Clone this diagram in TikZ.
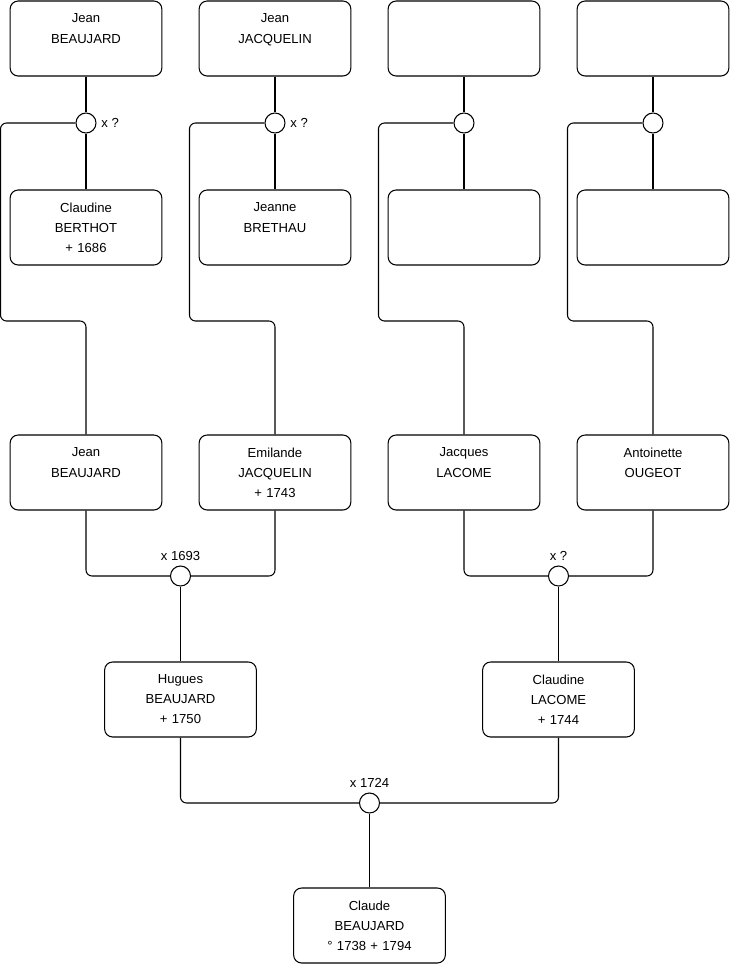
\documentclass[tikz,border=0pt]{standalone}
\usepackage{fontspec}
\setmainfont{Liberation Sans}
\usetikzlibrary{calc}

\begin{document}
\begin{tikzpicture}[line width=0.6pt]
        \tikzstyle {personne} = [rectangle, rounded corners=0.16cm, text width=2.8cm, minimum width=3cm, minimum height=1.5cm, align=center, draw=black, font=\fontsize{7.45}{11.4}\selectfont]
        \tikzstyle {union} = [circle, minimum size=0.4cm, inner sep=0pt, draw=black, fill=white]
        \tikzstyle {mention} = [font=\fontsize{7.45}{11.4}\selectfont, inner sep=2.5pt]
        \tikzstyle {lien} = [rounded corners=0.12cm]
        \useasboundingbox (0,0) rectangle (14.8,-19.5);
        % Arrière-grands-parents
        \node (jean_beaujard_1) [personne] at (1.72,-0.77) {Jean\\BEAUJARD\\~};
        \node (jean_jacquelin) [personne, right of=jean_beaujard_1, xshift=2.78cm] {Jean\\JACQUELIN\\~};
        \node (inconnu_1) [personne, right of=jean_jacquelin, xshift=2.78cm] {};
        \node (inconnu_2) [personne, right of=inconnu_1, xshift=2.78cm] {};
        \node (claudine_berthot) [personne, below of=jean_beaujard_1, yshift=-2.78cm] {Claudine\\BERTHOT\\+ 1686};
        \node (jeanne_brethau) [personne, below of=jean_jacquelin, yshift=-2.78cm] {Jeanne\\BRETHAU\\~};
        \node (inconnu_3) [personne, below of=inconnu_1, yshift=-2.78cm] {};
        \node (inconnu_4) [personne, below of=inconnu_2, yshift=-2.78cm] {};
        % Unions
        \node (u1) [union, below of=jean_beaujard_1, yshift=-0.69cm] {};
        \node (u2) [union, below of=jean_jacquelin, yshift=-0.69cm] {};
        \node (u3) [union, below of=inconnu_1, yshift=-0.69cm] {};
        \node (u4) [union, below of=inconnu_2, yshift=-0.69cm] {};
        \node (x_u1) [mention, anchor=west] at (u1.east) {x ?};
        \node (x_u2) [mention, anchor=west] at (u2.east) {x ?};
        \draw (jean_beaujard_1.south) -- (u1.north);
        \draw (u1.south) -- (claudine_berthot.north);
        \draw (jean_jacquelin.south) -- (u2.north);
        \draw (u2.south) -- (jeanne_brethau.north);
        \draw (inconnu_1.south) -- (u3.north);
        \draw (u3.south) -- (inconnu_3.north);
        \draw (inconnu_2.south) -- (u4.north);
        \draw (u4.south) -- (inconnu_4.north);
        % Grands-parents
        \node (jean_beaujard_2) [personne, below of=claudine_berthot, yshift=-3.9cm] {Jean\\BEAUJARD\\~};
        \node (emilande_jacquelin) [personne, below of=jeanne_brethau, yshift=-3.9cm] {Emilande\\JACQUELIN\\+ 1743};
        \node (jacques_lacome) [personne, below of=inconnu_3, yshift=-3.9cm] {Jacques\\LACOME\\~};
        \node (antoinette_ougeot) [personne, below of=inconnu_4, yshift=-3.9cm] {Antoinette\\OUGEOT\\~};
        \draw[lien] (u1.west) -| ++(-1.5,-3.96) -| (jean_beaujard_2.north);
        \draw[lien] (u2.west) -| ++(-1.5,-3.96) -| (emilande_jacquelin.north);
        \draw[lien] (u3.west) -| ++(-1.5,-3.96) -| (jacques_lacome.north);
        \draw[lien] (u4.west) -| ++(-1.5,-3.96) -| (antoinette_ougeot.north);
        \node (u5) [union] at ($(jean_beaujard_2)!0.5!(emilande_jacquelin) + (0,-2.07)$) {};
        \node (u6) [union] at ($(jacques_lacome)!0.5!(antoinette_ougeot) + (0,-2.07)$) {};
        \node (x_u5) [mention, anchor=south] at (u5.north) {x 1693};
        \node (x_u6) [mention, anchor=south] at (u6.north) {x ?};
        \draw[lien] (jean_beaujard_2.south) |- (u5.west);
        \draw[lien] (emilande_jacquelin.south) |- (u5.east);
        \draw[lien] (jacques_lacome.south) |- (u6.west);
        \draw[lien] (antoinette_ougeot.south) |- (u6.east);
        % Parents
        \node (hugues_beaujard) [personne, below of=u5, yshift=-1.47cm] {Hugues\\BEAUJARD\\+ 1750};
        \node (claudine_lacome) [personne, below of=u6, yshift=-1.47cm] {Claudine\\LACOME\\+ 1744};
        \draw (u5.south) -- (hugues_beaujard.north);
        \draw (u6.south) -- (claudine_lacome.north);
        \node (u7) [union] at ($(hugues_beaujard)!0.5!(claudine_lacome) + (0,-2.07)$) {};
        \node (x_u7) [mention, anchor=south] at (u7.north) {x 1724};
        \draw[lien] (hugues_beaujard.south) |- (u7.west);
        \draw[lien] (claudine_lacome.south) |- (u7.east);
        % Claude
        \node (claude_beaujard) [personne, below of=u7, yshift=-1.45cm] {Claude\\BEAUJARD\\° 1738 + 1794};
        \draw (u7.south) -- (claude_beaujard.north);
    \end{tikzpicture}
\end{document}
